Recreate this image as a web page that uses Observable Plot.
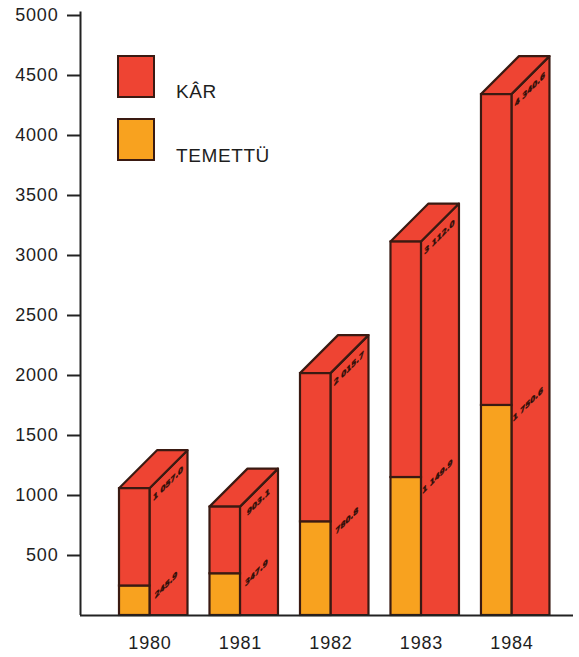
<!DOCTYPE html>
<html>
<head>
<meta charset="utf-8">
<script src="https://cdn.jsdelivr.net/npm/d3@7"></script>
<script src="https://cdn.jsdelivr.net/npm/@observablehq/plot@0.6"></script>
<style>
  html, body { margin: 0; padding: 0; background: #fff; }
  #wrap { position: relative; width: 579px; height: 657px; font-family: "Liberation Sans", Arial, sans-serif; }
  .sw { position: absolute; left: 117px; width: 34px; height: 39px; border: 2px solid #3a1a12; }
  .lt { position: absolute; left: 176px; font-size: 19px; line-height: 19px; letter-spacing: 0.6px; color: #1e1e1e; }
  g[aria-label="y-axis tick label"] text, g[aria-label="x-axis tick label"] text { letter-spacing: 0.8px; }
</style>
</head>
<body>
<div id="wrap"></div>
<script>
// Data
const years = [1980, 1981, 1982, 1983, 1984];
const profit = [1057.0, 903.1, 2015.7, 3112.0, 4340.6];     // KÂR
const dividend = [245.9, 347.9, 780.8, 1149.9, 1750.6];     // TEMETTÜ
const yTicks = [500, 1000, 1500, 2000, 2500, 3000, 3500, 4000, 4500, 5000];
const seriesNames = ["KÂR", "TEMETTÜ"];

const RED = "#ee4433";
const ORANGE = "#f8a21f";
const EDGE = "#3a1a12";
const INK = "#1e1e1e";
const LABEL_INK = "#2a0e08";

const FW = 0.337;   // front face width in year units
const DEPTH = 38;   // 3D depth in px

const data = years.map((y, i) => ({year: y, profit: profit[i], dividend: dividend[i]}));
const fmt = v => d3.format(",.1f")(v).replace(/,/g, " ");
const labelFont = "'DejaVu Sans Condensed', 'Liberation Sans Narrow', sans-serif";

// side and top faces drawn with the plot's scales
function depthFaces(index, scales) {
  const {x, y} = scales;
  const g = d3.create("svg:g").attr("stroke", EDGE).attr("stroke-width", 2.2).attr("stroke-linejoin", "round");
  for (const d of data) {
    const xl = x(d.year), xr = x(d.year + FW), y0 = y(0), yt = y(d.profit);
    g.append("path").attr("fill", RED)
      .attr("d", `M${xr},${y0}L${xr},${yt}L${xr + DEPTH},${yt - DEPTH}L${xr + DEPTH},${y0}Z`);
    g.append("path").attr("fill", RED)
      .attr("d", `M${xl},${yt}L${xl + DEPTH},${yt - DEPTH}L${xr + DEPTH},${yt - DEPTH}L${xr},${yt}Z`);
  }
  return g.node();
}

const labelStyle = {fontSize: 8, fontWeight: "bold", fill: LABEL_INK, stroke: LABEL_INK, strokeWidth: 0.45,
  fontFamily: labelFont, textAnchor: "middle"};

const chart = Plot.plot({
  width: 579,
  height: 657,
  marginTop: 15,
  marginBottom: 42,
  marginLeft: 80,
  marginRight: 6,
  style: {fontFamily: "'Liberation Sans', Arial, sans-serif", color: INK, background: "#fff"},
  x: {type: "linear", domain: [1979.569, 1985.017]},
  y: {domain: [0, 5000]},
  marks: [
    depthFaces,
    Plot.rect(data, {x1: "year", x2: d => d.year + FW, y1: 0, y2: "dividend", fill: ORANGE, stroke: EDGE, strokeWidth: 2.2}),
    Plot.rect(data, {x1: "year", x2: d => d.year + FW, y1: "dividend", y2: "profit", fill: RED, stroke: EDGE, strokeWidth: 2.2}),
    Plot.text(data, {x: d => d.year + FW, y: "profit", text: d => fmt(d.profit), dx: 18, dy: -5, ...labelStyle}),
    Plot.text(data, {x: d => d.year + FW, y: "dividend", text: d => fmt(d.dividend), dx: 16, dy: -1, ...labelStyle}),
    Plot.ruleX([1979.569], {y1: 0, y2: 5030, stroke: "#222", strokeWidth: 2}),
    Plot.ruleY([0], {stroke: "#222", strokeWidth: 2}),
    Plot.axisY({ticks: yTicks, tickSize: 13, tickPadding: 9, fontSize: 18, strokeWidth: 2, stroke: "#222", label: null, tickFormat: d => String(d)}),
    Plot.axisX({ticks: years.map(y => y + FW), tickFormat: d => String(Math.round(d - FW)), tickSize: 0, tickPadding: 21, fontSize: 18, label: null})
  ]
});

// shear the side-face labels along the depth direction (oblique projection)
const sideLabels = new Set([...profit, ...dividend].map(fmt));
d3.select(chart).selectAll("text").each(function () {
  if (!sideLabels.has(this.textContent)) return;
  const el = d3.select(this);
  let t = el.attr("transform");
  if (!t) {
    const x = +el.attr("x") || 0, y = +el.attr("y") || 0;
    el.attr("x", null).attr("y", null);
    t = `translate(${x},${y})`;
  }
  el.attr("transform", t + " skewY(-45)");
});

const wrap = document.getElementById("wrap");
wrap.appendChild(chart);

// legend overlay
const legendColors = [RED, ORANGE];
const swTops = [55, 118];
const txtTops = [82, 146];
seriesNames.forEach((name, i) => {
  const sw = document.createElement("div");
  sw.className = "sw";
  sw.style.top = swTops[i] + "px";
  sw.style.background = legendColors[i];
  wrap.appendChild(sw);
  const t = document.createElement("div");
  t.className = "lt";
  t.style.top = txtTops[i] + "px";
  t.textContent = name;
  wrap.appendChild(t);
});
chart.style.position = "absolute";
chart.style.left = "0";
chart.style.top = "0";
</script>
</body>
</html>
